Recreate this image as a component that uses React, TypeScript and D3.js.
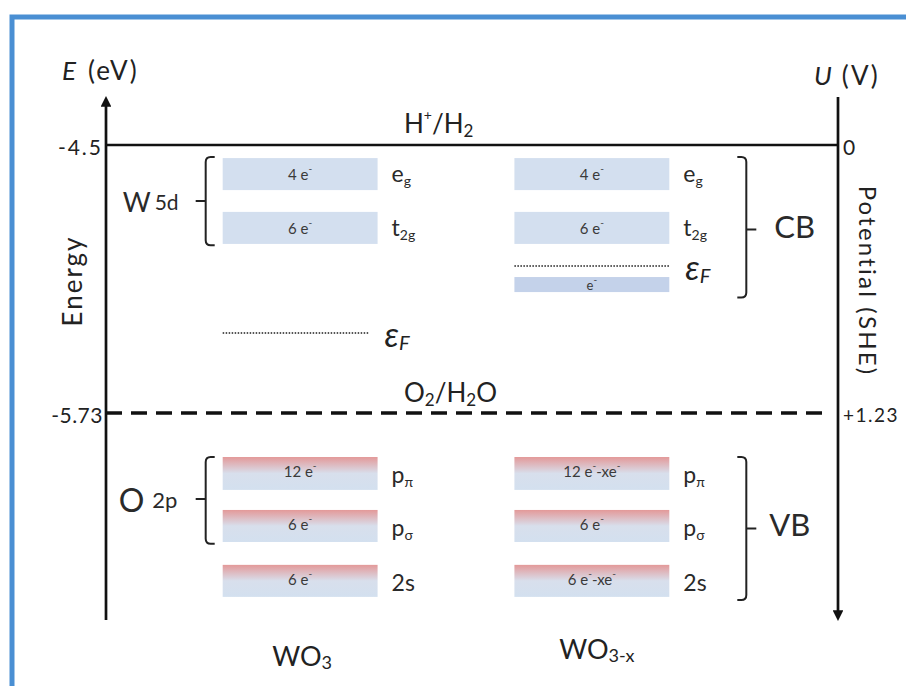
import * as d3 from "d3";
import { useEffect, useRef } from "react";

// compounds (columns)
const compounds = ["WO3", "WO3-x"];

// reference potentials, eV vs vacuum and V vs SHE
const refLevels = [
  { name: "H+/H2", E: -4.5, U: "0", dashed: false },
  { name: "O2/H2O", E: -5.73, U: "+1.23", dashed: true },
];

// schematic band edges in eV
const cbBands = [
  { col: "WO3", top: -4.56, bot: -4.707, label: "4 e", orb: "e", sub: "g" },
  { col: "WO3", top: -4.807, bot: -4.954, label: "6 e", orb: "t", sub: "2g" },
  { col: "WO3-x", top: -4.56, bot: -4.707, label: "4 e", orb: "e", sub: "g" },
  { col: "WO3-x", top: -4.807, bot: -4.954, label: "6 e", orb: "t", sub: "2g" },
];
const defectBands = [{ col: "WO3-x", top: -5.106, bot: -5.175, label: "e" }];
const vbBands = [
  { col: "WO3", top: -5.932, bot: -6.083, label: ["12 e"], orb: "p", sub: "π" },
  { col: "WO3", top: -6.175, bot: -6.322, label: ["6 e"], orb: "p", sub: "σ" },
  { col: "WO3", top: -6.427, bot: -6.574, label: ["6 e"], orb: "2s", sub: "" },
  { col: "WO3-x", top: -5.932, bot: -6.083, label: ["12 e", "-xe"], orb: "p", sub: "π" },
  { col: "WO3-x", top: -6.175, bot: -6.322, label: ["6 e"], orb: "p", sub: "σ" },
  { col: "WO3-x", top: -6.427, bot: -6.574, label: ["6 e", "-xe"], orb: "2s", sub: "" },
];
const fermiLevels = [
  { col: "WO3", E: -5.363 },
  { col: "WO3-x", E: -5.055 },
];

const FONT = "Lato, 'Open Sans', sans-serif";

export default function App() {
  const svgRef = useRef<SVGSVGElement>(null);
  const width = 906;
  const height = 686;

  useEffect(() => {
    const svg = d3.select(svgRef.current);
    svg.selectAll("*").remove();

    const axL = 106;
    const axR = 838;
    const y = d3.scaleLinear().domain([-4.5, -5.73]).range([145, 413]);
    const x = d3
      .scaleBand()
      .domain(compounds)
      .range([106, 786])
      .paddingInner(0.469)
      .paddingOuter(0.4);
    const bw = x.bandwidth();

    const defs = svg.append("defs");
    const grad = defs
      .append("linearGradient")
      .attr("id", "vbgrad")
      .attr("x1", 0)
      .attr("x2", 0)
      .attr("y1", 0)
      .attr("y2", 1);
    grad.append("stop").attr("offset", "0%").attr("stop-color", "#e39999");
    grad.append("stop").attr("offset", "50%").attr("stop-color", "#d8dfec");
    grad.append("stop").attr("offset", "100%").attr("stop-color", "#d3e0ef");

    defs
      .append("marker")
      .attr("id", "arrow")
      .attr("viewBox", "0 0 10 10")
      .attr("refX", 5)
      .attr("refY", 5)
      .attr("markerWidth", 4)
      .attr("markerHeight", 4)
      .attr("orient", "auto-start-reverse")
      .append("path")
      .attr("d", "M0,0 L10,5 L0,10 z")
      .attr("fill", "#111");

    // blue frame
    svg
      .append("rect")
      .attr("x", 12)
      .attr("y", 17)
      .attr("width", 1000)
      .attr("height", 1000)
      .attr("fill", "none")
      .attr("stroke", "#4a8fd3")
      .attr("stroke-width", 5);

    // axes
    svg
      .append("line")
      .attr("x1", axL)
      .attr("x2", axL)
      .attr("y1", y(-6.68))
      .attr("y2", y(-4.3))
      .attr("stroke", "#111")
      .attr("stroke-width", 2.7)
      .attr("marker-end", "url(#arrow)");
    svg
      .append("line")
      .attr("x1", axR)
      .attr("x2", axR)
      .attr("y1", y(-4.28))
      .attr("y2", y(-6.66))
      .attr("stroke", "#111")
      .attr("stroke-width", 2.7)
      .attr("marker-end", "url(#arrow)");

    const txt = (xx: number, yy: number, size: number, anchor = "start") =>
      svg
        .append("text")
        .attr("x", xx)
        .attr("y", yy)
        .attr("font-family", FONT)
        .attr("font-size", size)
        .attr("fill", "#222")
        .attr("text-anchor", anchor)
        .attr("dominant-baseline", "central");

    // axis titles
    const et = txt(62, 70, 26);
    et.append("tspan").attr("font-style", "italic").text("E");
    et.append("tspan").attr("dx", 12).attr("letter-spacing", 2).text("(eV)");
    const ut = txt(814, 75, 26);
    ut.append("tspan").attr("font-style", "italic").text("U");
    ut.append("tspan").attr("dx", 10).attr("letter-spacing", 2).text("(V)");
    txt(0, 0, 26, "middle")
      .attr("letter-spacing", 2)
      .attr("transform", "translate(72,281) rotate(-90)")
      .text("Energy");
    txt(0, 0, 24, "middle")
      .attr("letter-spacing", 2.2)
      .attr("transform", "translate(868,281) rotate(90)")
      .text("Potential (SHE)");

    // reference levels
    refLevels.forEach((r) => {
      svg
        .append("line")
        .attr("x1", axL)
        .attr("x2", r.dashed ? axR - 10 : axR)
        .attr("y1", y(r.E))
        .attr("y2", y(r.E))
        .attr("stroke", "#111")
        .attr("stroke-width", r.dashed ? 3.5 : 2.7)
        .attr("stroke-dasharray", r.dashed ? "16,9" : null);
      txt(axL - 3, y(r.E) + 1, 21, "end")
        .attr("letter-spacing", r.dashed ? 0.5 : 2)
        .text(String(r.E));
      txt(axR + 5, y(r.E) + 1, r.dashed ? 19 : 21)
        .attr("letter-spacing", r.dashed ? 1.5 : 0)
        .text(r.U);
    });
    const h = txt(404, y(-4.5) - 22, 26);
    h.append("tspan").text("H");
    h.append("tspan").attr("font-size", 14).attr("dy", -9).text("+");
    h.append("tspan").attr("dy", 9).text("/H");
    h.append("tspan").attr("font-size", 17).attr("dy", 7).text("2");
    const o = txt(404, y(-5.73) - 21, 26);
    o.append("tspan").text("O");
    o.append("tspan").attr("font-size", 17).attr("dy", 7).text("2");
    o.append("tspan").attr("dy", -7).text("/H");
    o.append("tspan").attr("font-size", 17).attr("dy", 7).text("2");
    o.append("tspan").attr("dy", -7).text("O");

    const eLabel = (cx: number, cy: number, parts: string[], size = 15) => {
      const t = txt(cx, cy, size, "middle").attr("fill", "#3a3a3a");
      parts.forEach((p, i) => {
        t.append("tspan").attr("dy", i === 0 ? 0 : 6).text(p);
        t.append("tspan").attr("font-size", 10).attr("dy", -6).text("-");
      });
      return t;
    };
    const orbLabel = (xx: number, cy: number, main: string, sub: string) => {
      const t = txt(xx, cy, 23).attr("fill", "#2a2a2a");
      t.append("tspan").text(main);
      if (sub) t.append("tspan").attr("font-size", 14).attr("dy", 7).text(sub);
    };

    // conduction bands
    cbBands.forEach((b) => {
      const x0 = x(b.col)!;
      svg
        .append("rect")
        .attr("x", x0)
        .attr("y", y(b.top))
        .attr("width", bw)
        .attr("height", y(b.bot) - y(b.top))
        .attr("fill", "#d3dfef");
      eLabel(x0 + bw / 2, (y(b.top) + y(b.bot)) / 2, [b.label]);
      orbLabel(x0 + bw + 14, (y(b.top) + y(b.bot)) / 2 - 1, b.orb, b.sub);
    });
    defectBands.forEach((b) => {
      const x0 = x(b.col)!;
      svg
        .append("rect")
        .attr("x", x0)
        .attr("y", y(b.top))
        .attr("width", bw)
        .attr("height", y(b.bot) - y(b.top))
        .attr("fill", "#c4d2ea");
      eLabel(x0 + bw / 2, (y(b.top) + y(b.bot)) / 2, [b.label], 13);
    });
    vbBands.forEach((b) => {
      const x0 = x(b.col)!;
      svg
        .append("rect")
        .attr("x", x0)
        .attr("y", y(b.top))
        .attr("width", bw)
        .attr("height", y(b.bot) - y(b.top))
        .attr("fill", "url(#vbgrad)");
      eLabel(x0 + bw / 2, (y(b.top) + y(b.bot)) / 2 - 2, b.label);
      orbLabel(x0 + bw + 14, (y(b.top) + y(b.bot)) / 2 + 1, b.orb, b.sub);
    });

    // Fermi levels
    fermiLevels.forEach((f) => {
      const x0 = x(f.col)!;
      const xEnd = f.col === "WO3" ? x0 + bw - 9 : x0 + bw;
      svg
        .append("line")
        .attr("x1", x0)
        .attr("x2", xEnd)
        .attr("y1", y(f.E))
        .attr("y2", y(f.E))
        .attr("stroke", "#555")
        .attr("stroke-width", 2)
        .attr("stroke-dasharray", "1.5,1.5");
      const t = txt(xEnd + 16, y(f.E), 34).attr("font-style", "italic");
      t.append("tspan").text("ε");
      t.append("tspan").attr("font-size", 20).attr("dy", 9).text("F");
    });

    // brackets
    const bracket = (bx: number, yTop: number, yBot: number, yMid: number, dir: number) => {
      const r = 5;
      const s = 9 * dir;
      const p = d3.path();
      p.moveTo(bx + s, yTop);
      p.lineTo(bx + r * dir, yTop);
      p.quadraticCurveTo(bx, yTop, bx, yTop + r);
      p.lineTo(bx, yBot - r);
      p.quadraticCurveTo(bx, yBot, bx + r * dir, yBot);
      p.lineTo(bx + s, yBot);
      p.moveTo(bx, yMid);
      p.lineTo(bx - 10 * dir, yMid);
      svg
        .append("path")
        .attr("d", p.toString())
        .attr("fill", "none")
        .attr("stroke", "#222")
        .attr("stroke-width", 2);
    };
    const xl = x("WO3")! - 17;
    const xr = x("WO3-x")! + bw + 77;
    bracket(xl, y(-4.555), y(-4.96), y(-4.757), 1);
    bracket(xl, y(-5.932), y(-6.33), y(-6.125), 1);
    bracket(xr, y(-4.555), y(-5.2), y(-4.888), -1);
    bracket(xr, y(-5.932), y(-6.588), y(-6.26), -1);

    const w5 = txt(xl - 83, y(-4.757), 27).attr("fill", "#2a2a2a");
    w5.append("tspan").text("W");
    w5.append("tspan").attr("font-size", 21).attr("dx", 4).text("5d");
    const o2 = txt(xl - 87, y(-6.125), 32).attr("fill", "#2a2a2a");
    o2.append("tspan").text("O");
    o2.append("tspan").attr("font-size", 22).attr("dx", 8).text("2p");
    txt(xr + 28, y(-4.87), 31).attr("fill", "#2a2a2a").text("CB");
    txt(xr + 23, y(-6.24), 31).attr("fill", "#2a2a2a").text("VB");

    // compound names
    const c1 = txt(x("WO3")! + bw / 2 + 2, 655, 27, "middle").attr("fill", "#222");
    c1.append("tspan").text("WO");
    c1.append("tspan").attr("font-size", 18).attr("dy", 7).text("3");
    const c2 = txt(x("WO3-x")! + bw / 2 + 5, 648, 27, "middle").attr("fill", "#222");
    c2.append("tspan").text("WO");
    c2.append("tspan").attr("font-size", 18).attr("dy", 7).text("3-x");
  }, []);

  return (
    <svg
      ref={svgRef}
      width={width}
      height={height}
      style={{ position: "absolute", left: 0, top: 0, background: "#fff" }}
    />
  );
}
